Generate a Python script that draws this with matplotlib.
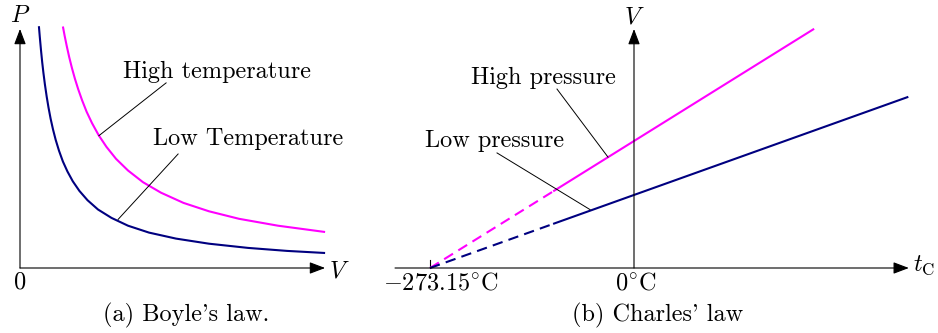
import numpy as np
import matplotlib
matplotlib.use("Agg")
import matplotlib.pyplot as plt

plt.rcParams["font.family"] = "cmr10"
plt.rcParams["mathtext.fontset"] = "cm"
plt.rcParams["axes.formatter.use_mathtext"] = True

# Boyle's law (V, P in arbitrary units)
boyle_low_v = [0.63, 0.66, 0.70, 0.74, 0.78, 0.83, 0.89, 0.95, 1.02, 1.10,
               1.19, 1.30, 1.43, 1.58, 1.76, 1.98, 2.25, 2.6, 3.05, 3.6,
               4.3, 5.2, 6.3, 7.6, 8.9, 10.17]
boyle_low_p = [8.06, 7.70, 7.26, 6.86, 6.51, 6.12, 5.71, 5.35, 4.98, 4.62,
               4.27, 3.91, 3.55, 3.22, 2.89, 2.57, 2.26, 1.95, 1.67, 1.41,
               1.18, 0.98, 0.81, 0.67, 0.57, 0.50]
boyle_high_v = [1.43, 1.49, 1.56, 1.64, 1.73, 1.83, 1.94, 2.07, 2.22, 2.40,
                2.62, 2.88, 3.20, 3.60, 4.1, 4.7, 5.45, 6.3, 7.3, 8.6, 10.17]
boyle_high_p = [8.05, 7.73, 7.39, 7.03, 6.67, 6.31, 5.96, 5.59, 5.21, 4.83,
                4.43, 4.04, 3.64, 3.25, 2.86, 2.51, 2.17, 1.89, 1.64, 1.41, 1.20]

# Charles' law: t in degC, V relative; dashed = extrapolated part
charles_high_t_dash = [-273.15, -107.0]
charles_high_v_dash = [0.0, 0.608]
charles_high_t = [-107.0, 240.0]
charles_high_v = [0.608, 1.879]
charles_low_t_dash = [-273.15, -107.0]
charles_low_v_dash = [0.0, 0.350]
charles_low_t = [-107.0, 366.0]
charles_low_v = [0.350, 1.345]

MAGENTA = "#ff00ff"
NAVY = "#000080"
FS = 17.5

W, H = 938, 333
fig = plt.figure(figsize=(W / 100, H / 100), dpi=100)

ARROW = dict(arrowstyle="-|>,head_length=0.95,head_width=0.36", color="black",
             lw=0.8, shrinkA=0, shrinkB=0, mutation_scale=10)

# ---------------- (a) Boyle ----------------
sx = 30.0  # px per unit
ax1 = fig.add_axes([0, 0, 360 / W, 1])
ax1.set_xlim(-20 / sx, 340 / sx)
ax1.set_ylim(-65 / sx, 268 / sx)
ax1.axis("off")

ax1.annotate("", xy=(10.17, 0), xytext=(0, 0), arrowprops=ARROW)
ax1.annotate("", xy=(0, 7.97), xytext=(0, 0), arrowprops=ARROW)
ax1.plot(boyle_low_v, boyle_low_p, color=NAVY, lw=1.5, solid_capstyle="butt")
ax1.plot(boyle_high_v, boyle_high_p, color=MAGENTA, lw=1.5, solid_capstyle="butt")

ax1.text(0, 8.4, r"$P$", fontsize=FS, ha="center", va="center")
ax1.text(10.65, -0.1, r"$V$", fontsize=FS, ha="center", va="center")
ax1.text(0.02, -0.47, "0", fontsize=FS, ha="center", va="center")
ax1.text(5.53, -1.57, "(a) Boyle's law.", fontsize=FS, ha="center", va="center")

ax1.plot([2.63, 4.87], [4.41, 6.17], color="black", lw=0.7)
ax1.text(6.58, 6.53, "High temperature", fontsize=FS, ha="center", va="center")
ax1.plot([3.27, 5.27], [1.62, 3.80], color="black", lw=0.7)
ax1.text(7.6, 4.3, "Low Temperature", fontsize=FS, ha="center", va="center")

# ---------------- (b) Charles ----------------
tx = 204 / 273.15  # px per degC
vy = 127.0         # px per V unit
ax2 = fig.add_axes([360 / W, 0, 578 / W, 1])
ax2.set_xlim((360 - 634) / tx, (938 - 634) / tx)
ax2.set_ylim(-65 / vy, 268 / vy)
ax2.axis("off")

ax2.annotate("", xy=(368, 0), xytext=(-320, 0), arrowprops=ARROW)
ax2.annotate("", xy=(0, 1.882), xytext=(0, 0), arrowprops=ARROW)
ax2.plot([-273.15, -273.15], [0, 0.063], color="black", lw=0.8)

ax2.plot(charles_high_t_dash, charles_high_v_dash, color=MAGENTA, lw=1.5,
         dashes=(5, 3))
ax2.plot(charles_high_t, charles_high_v, color=MAGENTA, lw=1.5)
ax2.plot(charles_low_t_dash, charles_low_v_dash, color=NAVY, lw=1.5,
         dashes=(5, 3))
ax2.plot(charles_low_t, charles_low_v, color=NAVY, lw=1.5)

ax2.text(0, 1.976, r"$V$", fontsize=FS, ha="center", va="center")
ax2.text(389, 0.02, r"$t_{\mathrm{C}}$", fontsize=FS, ha="center", va="center")
ax2.text(-258.4, -0.118, r"$-273.15^{\circ}\mathrm{C}$", fontsize=FS,
         ha="center", va="center")
ax2.text(2.7, -0.118, r"$0^{\circ}\mathrm{C}$", fontsize=FS, ha="center", va="center")
ax2.text(32.1, -0.37, "(b) Charles' law", fontsize=FS, ha="center", va="center")

ax2.plot([-103.1, -34.8], [1.409, 0.873], color="black", lw=0.7)
ax2.text(-121.9, 1.496, "High pressure", fontsize=FS, ha="center", va="center")
ax2.plot([-183.4, -58.9], [0.906, 0.46], color="black", lw=0.7)
ax2.text(-186.1, 1.0, "Low pressure", fontsize=FS, ha="center", va="center")

fig.savefig("out.png", dpi=100)
